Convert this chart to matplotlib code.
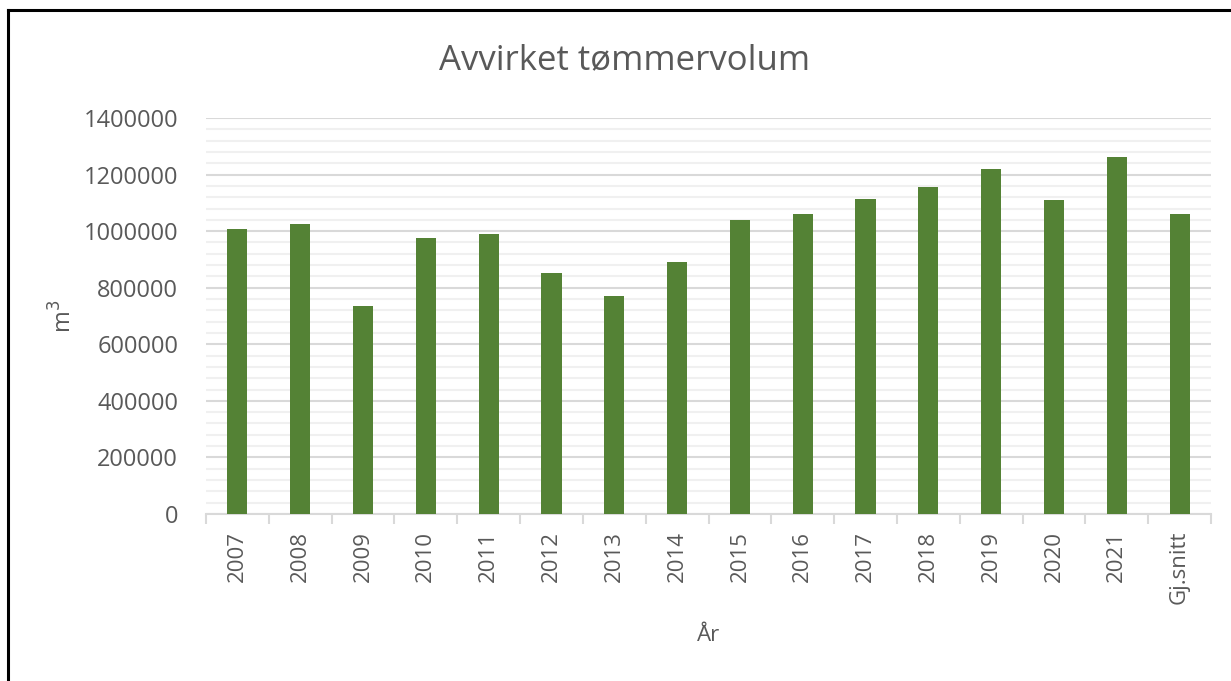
import matplotlib.pyplot as plt
from matplotlib.ticker import MultipleLocator
from matplotlib.lines import Line2D
import numpy as np

years = ['2007', '2008', '2009', '2010', '2011', '2012', '2013', '2014',
         '2015', '2016', '2017', '2018', '2019', '2020', '2021', 'Gj.snitt']
volume = [1008000, 1025000, 735000, 976000, 990000, 852000, 771000, 891000,
          1039000, 1061000, 1114000, 1156000, 1220000, 1109000, 1261000, 1060000]

plt.rcParams['font.family'] = ['Open Sans', 'DejaVu Sans']
grey = '#595959'

fig = plt.figure(figsize=(12.31, 6.81), dpi=100)
ax = fig.add_axes([206 / 1231, 1 - 514 / 681, (1211 - 206) / 1231, (514 - 118) / 681])

x = np.arange(len(years))
ax.bar(x, volume, width=0.32, color='#548235', zorder=3)

ax.set_xlim(-0.5, len(years) - 0.5)
ax.set_ylim(0, 1400000)
ax.yaxis.set_major_locator(MultipleLocator(200000))
ax.yaxis.set_minor_locator(MultipleLocator(40000))
ax.grid(axis='y', which='major', color='#d9d9d9', lw=1.5, zorder=1)
ax.grid(axis='y', which='minor', color='#f0f0f0', lw=1.5, zorder=0)

ax.set_xticks(x)
ax.set_xticklabels(years, rotation=90, fontsize=16, color=grey)
ax.set_xticks(np.arange(-0.5, len(years)), minor=True)
ax.tick_params(axis='x', which='major', length=0, pad=12)
ax.tick_params(axis='x', which='minor', length=7, color='#d9d9d9', width=1.5)
ax.tick_params(axis='y', which='both', length=0, labelsize=17, labelcolor=grey, pad=20)
ax.set_yticklabels([f'{int(v)}' for v in ax.get_yticks()])

for s in ['top', 'right', 'left']:
    ax.spines[s].set_visible(False)
ax.spines['bottom'].set_color('#d9d9d9')
ax.spines['bottom'].set_linewidth(1.5)

fig.text(625 / 1231, 1 - 60 / 681, 'Avvirket tømmervolum', fontsize=25, color=grey,
         ha='center', va='center')
ax.set_ylabel('m$^3$', fontsize=17, color=grey, labelpad=4)
ax.set_xlabel('År', fontsize=16, color=grey, labelpad=15)

# black frame on the left and top edge
fig.add_artist(Line2D([8 / 1231, 8 / 1231], [0, 1 - 10 / 681], color='black', lw=2.2,
                      transform=fig.transFigure))
fig.add_artist(Line2D([8 / 1231, 1], [1 - 10 / 681, 1 - 10 / 681], color='black', lw=2.2,
                      transform=fig.transFigure))

fig.savefig('out.png', dpi=100)
